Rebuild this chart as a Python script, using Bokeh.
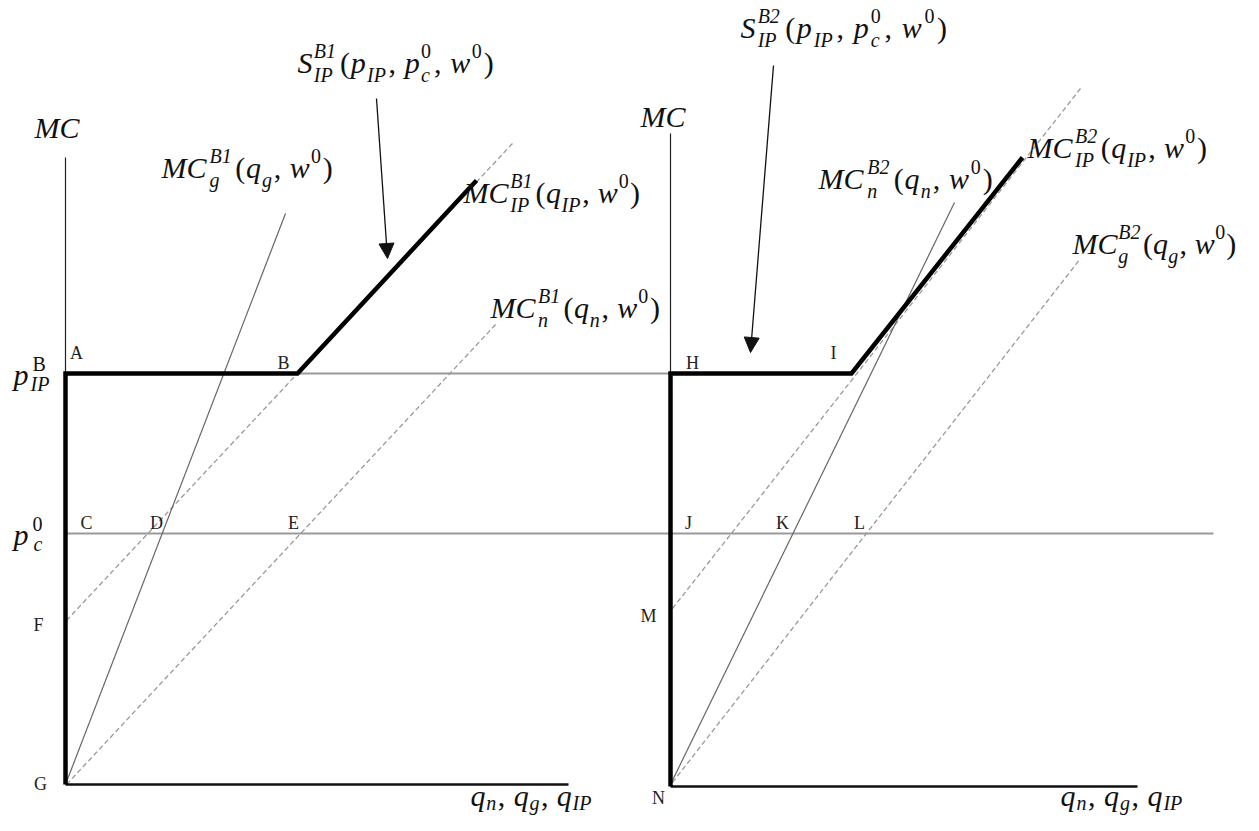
from bokeh.plotting import figure
from bokeh.models import Range1d, ColumnDataSource, Arrow, NormalHead
from bokeh.core.properties import value
from bokeh.embed import file_html
from bokeh.resources import INLINE

# ---------------- diagram values (q on x, MC on y, drawing units) ----------------
p_ip_level = 373          # p_IP^B
p_c_level = 533           # p_c^0

# supply curves S_IP (thick kinked lines)
s_b1_q = [65, 65, 297, 476]
s_b1_mc = [784, p_ip_level, p_ip_level, 180]
s_b2_q = [670, 670, 851, 1022]
s_b2_mc = [786, p_ip_level, p_ip_level, 157]

# axes
yaxis_thin_q = [[65, 65], [670, 670]]
yaxis_thin_mc = [[157, p_ip_level], [133, p_ip_level]]
xaxis_q = [[65, 568], [670, 1137]]
xaxis_mc = [[784, 784], [786, 786]]

# price lines
price_q = [[297, 670], [65, 1213]]
price_mc = [[p_ip_level, p_ip_level], [p_c_level, p_c_level]]

# solid MC curves (MC_g^B1, MC_n^B2)
solid_q = [[65, 285], [670, 954]]
solid_mc = [[784, 213], [784, 202]]

# dashed MC curves
dashed_q = [[66, 512], [66, 497], [672, 1080], [672, 1080]]
dashed_mc = [[620, 143], [784, 322], [608, 88], [782, 258]]

# arrows pointing to S_IP
arrow_q0 = [376, 773]
arrow_mc0 = [98, 65]
arrow_q1 = [387, 750]
arrow_mc1 = [258, 352]

# point letters
pt_labels = ["A", "B", "C", "D", "E", "F", "G", "H", "I", "J", "K", "L", "M", "N"]
pt_q = [76, 283, 86, 156, 293, 38, 40, 692, 833, 688, 782, 859, 648, 658]
pt_mc = [352, 362, 522, 522, 522, 624, 783, 362, 352, 522, 522, 522, 615, 797]

FONT = "Liberation Serif"
MAIN = 30
SMALL = 20

p = figure(width=1243, height=815, x_range=Range1d(0, 1243), y_range=Range1d(815, 0),
           output_backend="svg", toolbar_location=None, min_border=0,
           x_axis_type=None, y_axis_type=None)
p.grid.visible = False
p.outline_line_color = None
p.background_fill_color = "white"
p.border_fill_color = "white"

# lines
p.multi_line(price_q, price_mc, line_color="#9a9a9a", line_width=2)
p.multi_line(dashed_q, dashed_mc, line_color="#9a9a9a", line_width=1.3, line_dash="5 3")
p.multi_line(solid_q, solid_mc, line_color="#666666", line_width=1.2)
p.multi_line(yaxis_thin_q, yaxis_thin_mc, line_color="#222222", line_width=1.2)
p.multi_line(xaxis_q, xaxis_mc, line_color="#111111", line_width=2.5)
p.line(s_b1_q, s_b1_mc, line_color="black", line_width=4.5, line_join="miter")
p.line(s_b2_q, s_b2_mc, line_color="black", line_width=4.5, line_join="miter")

asrc = ColumnDataSource(dict(x0=arrow_q0, y0=arrow_mc0, x1=arrow_q1, y1=arrow_mc1))
p.add_layout(Arrow(source=asrc, x_start="x0", y_start="y0", x_end="x1", y_end="y1",
                   line_color="#111111", line_width=1.3,
                   end=NormalHead(size=15, fill_color="#111111", line_color="#111111")))

# ---------------- text helpers ----------------
ROMAN_W = {"(": .333, ")": .333, ",": .25, " ": .25, "0": .5, "1": .5, "2": .5, "B": .667}
ITAL_W = {"M": .833, "C": .667, "S": .5, "I": .333, "P": .611, "B": .611, "p": .5, "q": .5,
          "g": .5, "n": .5, "c": .444, "w": .667, "1": .5, "2": .5}

def tw(s, it):
    tab = ITAL_W if it else ROMAN_W
    return sum(tab.get(ch, .5) for ch in s)

groups = {}

def put(x, base, txt, size, it):
    # positions are given by text baseline; drawn with a "middle" anchor
    key = (size, it)
    g = groups.setdefault(key, dict(x=[], y=[], text=[]))
    g["x"].append(x); g["y"].append(base - 0.3375 * size); g["text"].append(txt)

def rich(pieces, x0, x1, base, sup_off=15, sub_off=9):
    adv = []
    for pc in pieces:
        kind = pc[0]
        if kind == "m":
            adv.append(tw(pc[1], pc[2]) * MAIN)
        elif kind in ("sup", "sub"):
            adv.append(tw(pc[1], pc[2]) * SMALL + 1)
        else:  # stacked sup/sub
            adv.append(max(tw(pc[1][0], pc[1][1]), tw(pc[2][0], pc[2][1])) * SMALL + 2)
    sc = (x1 - x0) / sum(adv)
    x = x0
    for pc, a in zip(pieces, adv):
        kind = pc[0]
        if kind == "m":
            put(x, base, pc[1], MAIN, pc[2])
        elif kind == "sup":
            put(x, base - sup_off, pc[1], SMALL, pc[2])
        elif kind == "sub":
            put(x, base + sub_off, pc[1], SMALL, pc[2])
        else:
            put(x, base - sup_off, pc[1][0], SMALL, pc[1][1])
            put(x, base + sub_off, pc[2][0], SMALL, pc[2][1])
        x += a * sc

def mc_label(sup, sub, var, x0, x1, base):
    rich([("m", "MC", 1), ("ss", (sup, 1), (sub, 1)), ("m", "(", 0), ("m", "q", 1),
          ("sub", var, 1), ("m", ", ", 0), ("m", "w", 1), ("sup", "0", 0), ("m", ")", 0)],
         x0, x1, base)

def s_label(sup, x0, x1, base):
    rich([("m", "S", 1), ("ss", (sup, 1), ("IP", 1)), ("m", "(", 0), ("m", "p", 1),
          ("sub", "IP", 1), ("m", ", ", 0), ("m", "p", 1), ("ss", ("0", 0), ("c", 1)),
          ("m", ", ", 0), ("m", "w", 1), ("sup", "0", 0), ("m", ")", 0)],
         x0, x1, base)

def q_label(x0, x1, base):
    rich([("m", "q", 1), ("sub", "n", 1), ("m", ", ", 0), ("m", "q", 1), ("sub", "g", 1),
          ("m", ", ", 0), ("m", "q", 1), ("sub", "IP", 1)], x0, x1, base, sub_off=4)

# curve labels
mc_label("B1", "g", "g", 161, 333, 177)
mc_label("B1", "IP", "IP", 463, 640, 202)
mc_label("B1", "n", "n", 490, 660, 317)
mc_label("B2", "IP", "IP", 1027, 1207, 157)
mc_label("B2", "n", "n", 818, 993, 188)
mc_label("B2", "g", "g", 1072, 1236, 253)
s_label("B1", 297, 494, 72)
s_label("B2", 740, 948, 37)

# axis labels
put(34, 137, "MC", MAIN, 1)
put(640, 126, "MC", MAIN, 1)
q_label(470, 593, 805)
q_label(1060, 1184, 805)

# price tick labels
put(13, 384, "p", MAIN, 1)
put(32, 370, "B", SMALL, 0)
put(30, 390, "IP", SMALL, 1)
put(13, 544, "p", MAIN, 1)
put(32, 530, "0", SMALL, 0)
put(33, 550, "c", SMALL, 1)

for (size, it), g in groups.items():
    p.text(x="x", y="y", text="text", source=ColumnDataSource(g),
           text_font=value(FONT), text_font_size=value(f"{size}px"),
           text_font_style="italic" if it else "normal",
           text_baseline="middle", text_align="left", text_color="#111111")

# point letters
p.text(x=pt_q, y=pt_mc, text=pt_labels, text_font=value(FONT), text_font_size=value("18px"),
       text_baseline="middle", text_align="center", text_color="#222222")

open("out.html", "w").write(file_html(p, INLINE))
